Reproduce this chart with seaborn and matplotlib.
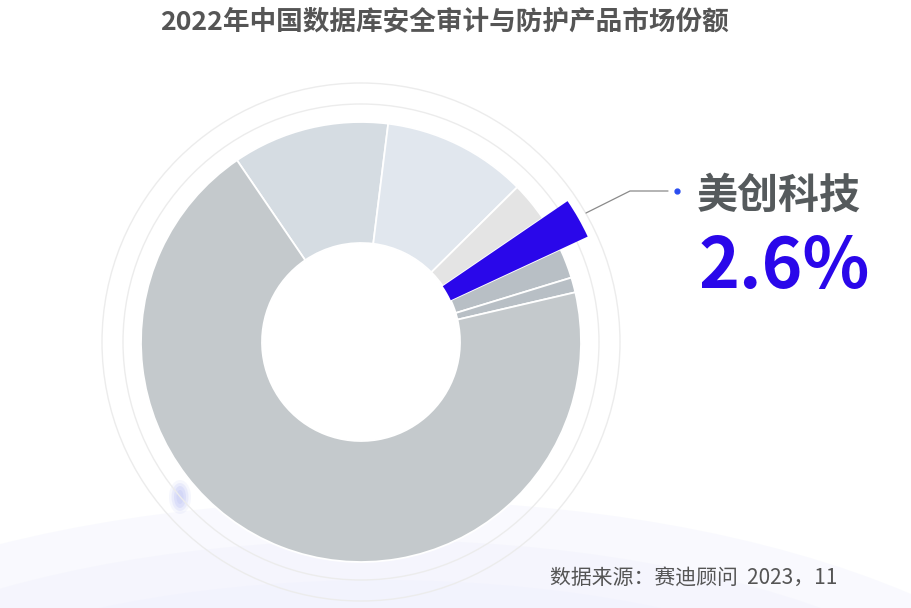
import matplotlib
matplotlib.use("Agg")
import matplotlib.pyplot as plt
from matplotlib.patches import Circle, Ellipse
import seaborn as sns

# ---- data ----
segments = ["厂商A", "厂商B", "厂商C", "美创科技", "厂商D", "厂商E", "其他"]
shares = [11.5, 10.6, 2.9, 2.6, 2.2, 1.1, 69.1]
seg_colors = ["#d5dce2", "#e1e7ee", "#e4e4e4", "#2a07ea", "#b8bfc5", "#b8bfc5", "#c4c9cc"]
highlight = "美创科技"
highlight_value = "2.6%"
title = "2022年中国数据库安全审计与防护产品市场份额"
source = "数据来源：赛迪顾问  2023，11"

sns.set_theme(style="white")
plt.rcParams["font.family"] = ["Noto Sans CJK SC", "DejaVu Sans"]

W, H = 911, 608
fig = plt.figure(figsize=(W / 100, H / 100), dpi=100)
ax = fig.add_axes([0, 0, 1, 1])

def Y(y):
    return H - y

cx, cy = 361, Y(342)

# background glow
for w, h, a in [(1500, 640, 0.35), (1350, 560, 0.35), (1200, 480, 0.35)]:
    ax.add_patch(Ellipse((380, Y(820)), w, h, facecolor="#eef0fd", edgecolor="none", alpha=a, zorder=0))
for w, h, a in [(22, 34, 0.15), (17, 28, 0.25), (12, 22, 0.35), (7, 14, 0.4)]:
    ax.add_patch(Ellipse((180, Y(497)), w, h, facecolor="#c6cbf6", edgecolor="none", alpha=a, zorder=0.5))

# faint rings
for r in (238, 259):
    ax.add_patch(Circle((cx, cy), r, facecolor="none", edgecolor="#ececec", linewidth=1.0, zorder=1))

pal = sns.color_palette(seg_colors)
wedges, _ = ax.pie(shares, colors=pal, startangle=124.3, counterclock=False,
                   radius=220, center=(cx, cy),
                   wedgeprops=dict(width=121, edgecolor="white", linewidth=1.3))
hi = segments.index(highlight)
wedges[hi].set_radius(250)
wedges[hi].set_width(151)
wedges[hi].set_edgecolor("none")
for wd in wedges:
    wd.set_zorder(2)
wedges[hi].set_zorder(3)

# leader line
ax.plot([586, 630, 668], [Y(213), Y(191), Y(191)], color="#8a8a8a", linewidth=0.9, zorder=4)
ax.plot([677], [Y(191)], marker="o", markersize=3.5, color="#2a4df0", zorder=4)

ax.text(697, Y(208), highlight, fontsize=29.5, fontweight="bold", color="#555a5c",
        ha="left", va="baseline")
ax.text(699, Y(288), highlight_value, fontsize=50, fontweight="bold", color="#2a07ea",
        ha="left", va="baseline")

ax.text(444, Y(22), title, fontsize=19.2, fontweight="bold", color="#555555",
        ha="center", va="center")
ax.text(550, Y(578), source, fontsize=15, color="#555555", ha="left", va="center")

ax.set_xlim(0, W)
ax.set_ylim(0, H)
ax.set_aspect("equal")
ax.axis("off")
fig.savefig("out.png", dpi=100)
